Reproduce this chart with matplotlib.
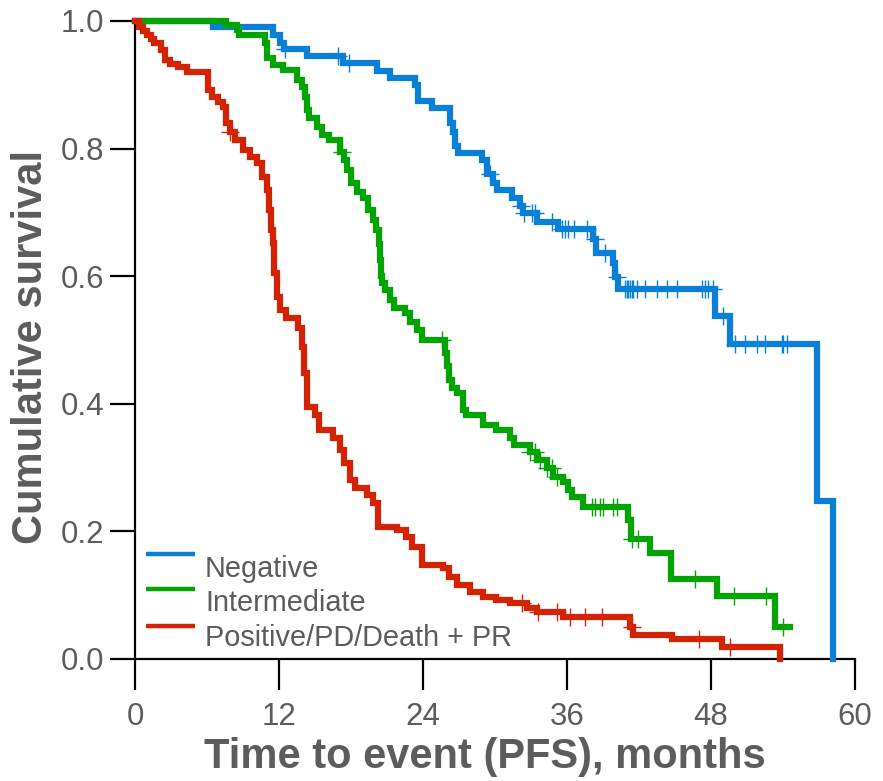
import numpy as np
import matplotlib
matplotlib.use('Agg')
import matplotlib.pyplot as plt

plt.rcParams['font.family'] = ['Liberation Sans', 'DejaVu Sans']

# Kaplan-Meier step data (time in months, survival after the step)
neg_t = [0, 6.5, 11.5, 12.1, 12.4, 14.3, 17.3, 20.2, 21.25, 23.3, 23.6, 24.75,
         26.25, 26.5, 26.7, 26.9, 28.9, 29.3, 29.8, 30.2, 31.4, 32.1, 32.3,
         33.5, 35.25, 38.2, 38.4, 39.8, 40.0, 40.25, 48.3, 49.6, 56.8, 58.2]
neg_s = [1.0, 0.991, 0.978, 0.966, 0.956, 0.945, 0.934, 0.922, 0.911, 0.9, 0.875, 0.864,
         0.84, 0.826, 0.804, 0.793, 0.782, 0.76, 0.746, 0.735, 0.723, 0.71, 0.699,
         0.685, 0.674, 0.658, 0.636, 0.62, 0.599, 0.58, 0.538, 0.494, 0.248, 0.0]
neg_cens = [12.5, 16.9, 17.8, 29.6, 32.2, 32.4, 33.1, 33.3, 34.75, 35.6, 35.8, 36.1,
            36.6, 37.7, 38.3, 39.2, 40.2, 40.8, 41.0, 41.1, 41.25, 41.4, 41.5, 41.8,
            42.5, 43.5, 44.3, 45.2, 47.25, 47.5, 47.75, 48.2, 49.0, 50.0, 50.8, 51.8,
            52.5, 53.9, 54.0, 54.3]
neg_end = 58.2

int_t = [0, 7.6, 8.5, 8.7, 10.8, 11.0, 11.5, 12.3, 13.5, 13.9, 14.2, 14.3, 14.5,
         15.2, 15.6, 16.2, 17.1, 17.4, 17.7, 18.0, 18.5, 19.0, 19.4, 19.8, 20.1,
         20.3, 20.4, 20.5, 20.6, 20.8, 21.25, 21.6, 22.5, 22.9, 23.5, 23.9,
         25.8, 26.0, 26.2, 26.4, 26.8, 27.3, 27.6, 29.0, 30.1, 31.25, 31.6, 32.9,
         33.5, 34.3, 34.8, 35.7, 36.1, 36.4, 37.3, 41.1, 41.3, 42.9, 44.7, 48.5, 53.3]
int_s = [1.0, 0.994, 0.986, 0.978, 0.966, 0.942, 0.931, 0.923, 0.908, 0.896, 0.881, 0.861, 0.848,
         0.834, 0.821, 0.813, 0.795, 0.782, 0.766, 0.746, 0.732, 0.722, 0.704, 0.688, 0.672,
         0.65, 0.625, 0.6, 0.589, 0.578, 0.563, 0.55, 0.542, 0.528, 0.516, 0.5,
         0.48, 0.46, 0.437, 0.425, 0.417, 0.39, 0.382, 0.367, 0.359, 0.346, 0.335, 0.325,
         0.312, 0.299, 0.285, 0.277, 0.265, 0.254, 0.238, 0.218, 0.188, 0.166, 0.125, 0.099, 0.05]
int_cens = [17.25, 25.6, 32.9, 33.3, 33.75, 34.3, 34.75, 35.2, 38.1, 38.3, 38.75,
            39.0, 39.8, 40.2, 41.4, 41.9, 46.7, 49.9, 52.6, 54.0]
int_end = 54.6

pos_t = [0, 0.3, 0.7, 1.0, 1.3, 1.6, 2.2, 2.5, 2.9, 3.6, 4.3, 6.1, 6.4, 6.9, 7.3,
         7.6, 7.9, 8.3, 9.0, 9.6, 10.2, 10.6, 11.0, 11.2, 11.35, 11.5, 11.6, 11.8,
         12.1, 12.6, 13.6, 13.9, 14.1, 14.3, 15.0, 15.3, 16.5, 17.1, 17.4, 17.9, 18.3,
         19.3, 19.8, 20.25, 21.8, 22.6, 23.1, 23.9, 25.7, 26.2, 26.8, 27.9, 29.0,
         30.1, 31.25, 32.7, 33.5, 35.7, 41.25, 41.5, 44.75, 48.9, 53.75]
pos_s = [1.0, 0.991, 0.985, 0.978, 0.972, 0.966, 0.955, 0.939, 0.933, 0.928, 0.92, 0.892, 0.881, 0.873, 0.865,
         0.84, 0.826, 0.813, 0.798, 0.787, 0.777, 0.756, 0.735, 0.704, 0.672, 0.652, 0.605, 0.568,
         0.547, 0.534, 0.519, 0.489, 0.448, 0.395, 0.382, 0.359, 0.346, 0.328, 0.307, 0.281,
         0.268, 0.257, 0.245, 0.207, 0.202, 0.191, 0.176, 0.147, 0.142, 0.129, 0.116, 0.105,
         0.097, 0.092, 0.087, 0.08, 0.074, 0.066, 0.05, 0.038, 0.031, 0.019, 0.0]
pos_cens = [7.9, 32.25, 33.6, 35.2, 36.25, 37.5, 38.9, 41.4, 47.0, 49.6]
pos_end = 53.75

labels = ['Negative', 'Intermediate', 'Positive/PD/Death + PR']
colors = ['#0a7fd8', '#02a302', '#d42204']

groups = [(neg_t, neg_s, neg_cens, neg_end),
          (int_t, int_s, int_cens, int_end),
          (pos_t, pos_s, pos_cens, pos_end)]

fig = plt.figure(figsize=(8.83, 7.81), dpi=100)
ax = fig.add_axes([135/883, 1-659/781, 720/883, 638/781])

for (t, s, cens, end), c in zip(groups, colors):
    t = np.array(t + [end])
    s = np.array(s + [s[-1]])
    ax.plot(t, s, drawstyle='steps-post', color=c, lw=4.5, clip_on=False,
            solid_joinstyle='miter', zorder=3)
    # censor marks sit on the step curve
    idx = np.searchsorted(t, cens, side='right') - 1
    ax.plot(cens, s[idx], ls='none', marker='+', ms=13, mew=1.0, color=c,
            clip_on=False, zorder=4)

ax.set_xlim(0, 60)
ax.set_ylim(0, 1.0)
ax.set_xticks([0, 12, 24, 36, 48, 60])
ax.set_yticks([0.0, 0.2, 0.4, 0.6, 0.8, 1.0])
ax.set_yticklabels(['0.0', '0.2', '0.4', '0.6', '0.8', '1.0'])

for side in ['top', 'right']:
    ax.spines[side].set_visible(False)
for side in ['left', 'bottom']:
    ax.spines[side].set_linewidth(1.6)
ax.tick_params(axis='x', direction='out', length=22, width=1.6, pad=9,
               labelsize=22.5, labelcolor='#5c5c5c')
ax.tick_params(axis='y', direction='out', length=18, width=1.6, pad=4,
               labelsize=22.5, labelcolor='#5c5c5c')

ax.set_xlabel('Time to event (PFS), months', fontsize=30, fontweight='bold',
              color='#5c5c5c')
ax.xaxis.set_label_coords(0.486, -0.154, transform=ax.transAxes)
ax.xaxis.label.set_va('center')
ax.set_ylabel('Cumulative survival', fontsize=30, fontweight='bold',
              color='#5c5c5c')
ax.yaxis.set_label_coords(-0.145, 0.489, transform=ax.transAxes)
ax.yaxis.label.set_va('center')

# legend drawn by hand: handle sits a little above its text
handle_y = [0.1646, 0.1097, 0.0517]
text_y = [0.1285, 0.0752, 0.0204]
for lab, c, hy, ty in zip(labels, colors, handle_y, text_y):
    ax.plot([0.0153, 0.0833], [hy, hy], color=c, lw=3.2, transform=ax.transAxes,
            solid_capstyle='butt')
    ax.text(0.0972, ty, lab, transform=ax.transAxes, fontsize=20.8,
            color='#5c5c5c', va='baseline', ha='left')

fig.savefig('out.png', dpi=100)
